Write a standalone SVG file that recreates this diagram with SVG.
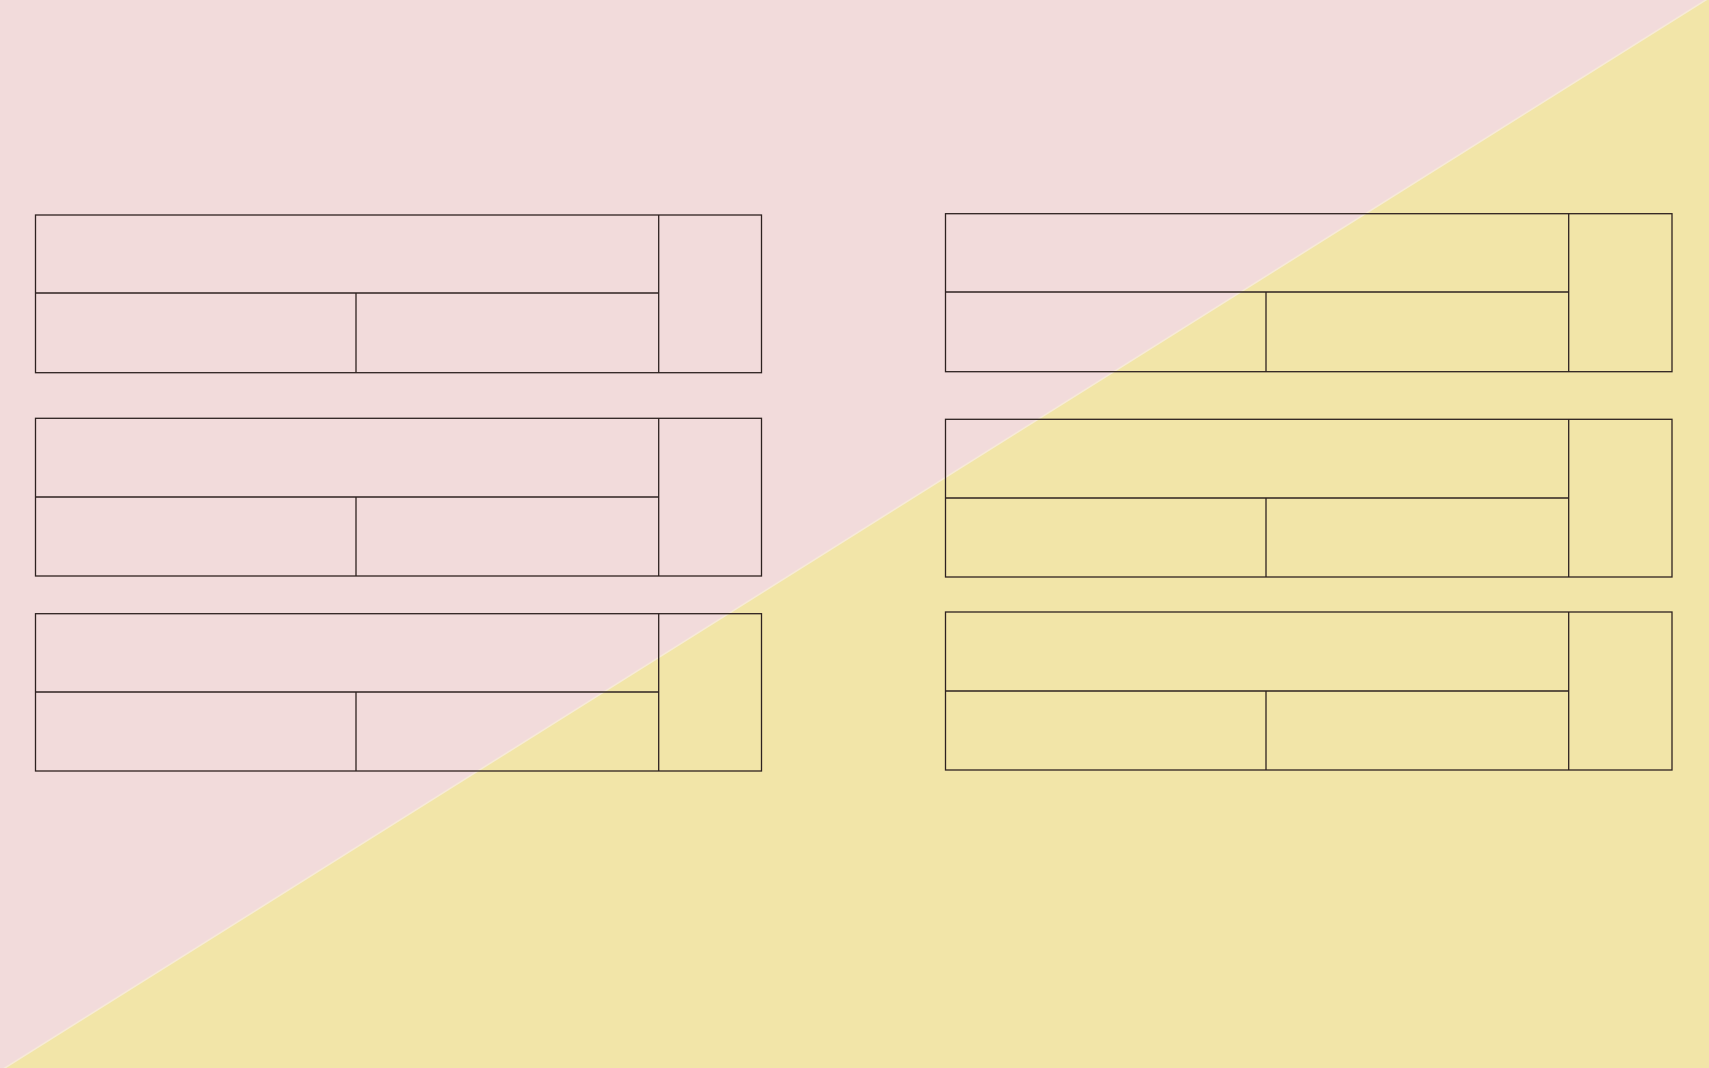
<svg xmlns="http://www.w3.org/2000/svg" width="1709" height="1068" viewBox="0 0 1709 1068">
<style>
.ln{fill:none;stroke:#2e2220;stroke-width:1.3}
.seam{stroke:#f7ead8;stroke-width:1.5;fill:none}
</style>
<rect x="0" y="0" width="1709" height="1068" fill="#f2dbdb"/>
<polygon points="0,1071 1709,-2 1709,1068 0,1068" fill="#f2e5a8"/>
<line class="seam" x1="0" y1="1071" x2="1709" y2="-2"/>
<g id="table-l1">
<rect class="ln" x="35.5" y="215" width="726" height="157.7"/>
<line class="ln" x1="658.7" y1="215" x2="658.7" y2="372.7"/>
<line class="ln" x1="35.5" y1="293" x2="658.7" y2="293"/>
<line class="ln" x1="356" y1="293" x2="356" y2="372.7"/>
</g>
<g id="table-l2">
<rect class="ln" x="35.5" y="418.3" width="726" height="157.7"/>
<line class="ln" x1="658.7" y1="418.3" x2="658.7" y2="576"/>
<line class="ln" x1="35.5" y1="497" x2="658.7" y2="497"/>
<line class="ln" x1="356" y1="497" x2="356" y2="576"/>
</g>
<g id="table-l3">
<rect class="ln" x="35.5" y="613.7" width="726" height="157.3"/>
<line class="ln" x1="658.7" y1="613.7" x2="658.7" y2="771"/>
<line class="ln" x1="35.5" y1="692" x2="658.7" y2="692"/>
<line class="ln" x1="356" y1="692" x2="356" y2="771"/>
</g>
<g id="table-r1">
<rect class="ln" x="945.5" y="213.7" width="726.5" height="158"/>
<line class="ln" x1="1568.7" y1="213.7" x2="1568.7" y2="371.7"/>
<line class="ln" x1="945.5" y1="292" x2="1568.7" y2="292"/>
<line class="ln" x1="1266" y1="292" x2="1266" y2="371.7"/>
</g>
<g id="table-r2">
<rect class="ln" x="945.5" y="419.3" width="726.5" height="157.7"/>
<line class="ln" x1="1568.7" y1="419.3" x2="1568.7" y2="577"/>
<line class="ln" x1="945.5" y1="498" x2="1568.7" y2="498"/>
<line class="ln" x1="1266" y1="498" x2="1266" y2="577"/>
</g>
<g id="table-r3">
<rect class="ln" x="945.5" y="612" width="726.5" height="158"/>
<line class="ln" x1="1568.7" y1="612" x2="1568.7" y2="770"/>
<line class="ln" x1="945.5" y1="691" x2="1568.7" y2="691"/>
<line class="ln" x1="1266" y1="691" x2="1266" y2="770"/>
</g>
<g id="connectors"></g>
</svg>
